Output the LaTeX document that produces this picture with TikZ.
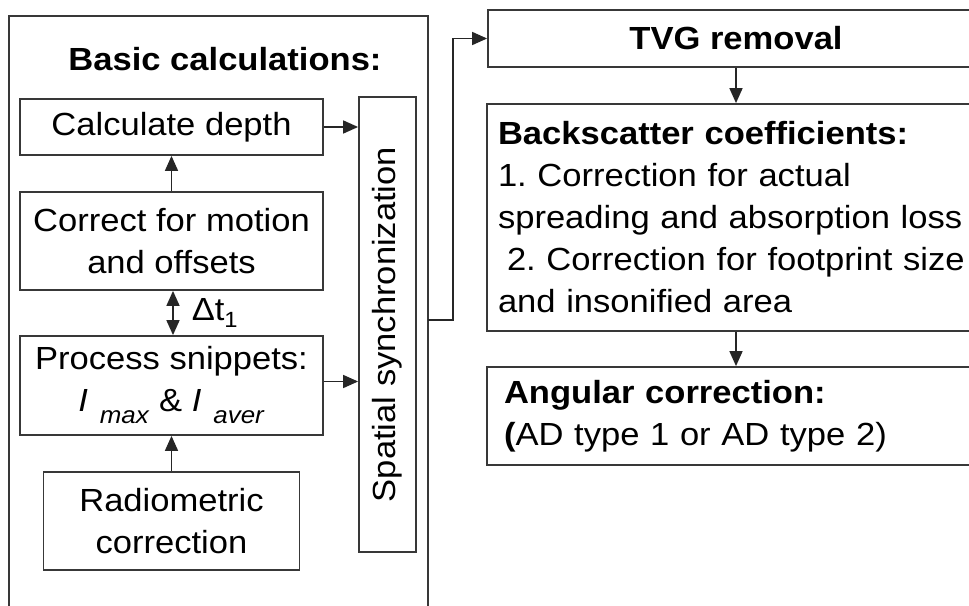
\documentclass[tikz,border=0pt]{standalone}
\usepackage{fontspec}
\setmainfont[FakeStretch=1.08]{Liberation Sans}
\usetikzlibrary{arrows.meta}
\begin{document}
\frenchspacing
\begin{tikzpicture}[x=1pt,y=-1pt,
  box/.style={draw=black!78, line width=1.8pt, inner sep=0pt, align=center,
    font=\fontsize{32}{42}\selectfont},
  lbox/.style={box, align=left},
  conn/.style={draw=black!85, line width=1.6pt, -{Triangle[length=15pt,width=13pt]}},
  dconn/.style={draw=black!85, line width=1.6pt, {Triangle[length=15pt,width=13pt]}-{Triangle[length=15pt,width=13pt]}},
  txt/.style={inner sep=0pt, font=\fontsize{32}{42}\selectfont}]
\clip (0,0) rectangle (969,605);
\fill[white] (0,0) rectangle (969,605);
% outer group
\node[box, minimum width=419pt, minimum height=600pt] (outer) at (218.5,316) {};
\node[txt, font=\bfseries\fontsize{32}{40}\selectfont, anchor=base] (title) at (225,70) {Basic calculations:};
% left boxes
\node[box, minimum width=303pt, minimum height=56pt] (depth) at (171.5,127) {Calculate depth};
\node[box, minimum width=303pt, minimum height=98pt] (correct) at (171.5,241) {Correct for motion\\and offsets};
\node[box, minimum width=303pt, minimum height=99pt] (process) at (171.5,385.5)
  {Process snippets:\\\textit{I}\hspace{12pt}\raisebox{-12pt}{\fontsize{24}{24}\selectfont\textit{max}} \& \textit{I}\hspace{12pt}\raisebox{-12pt}{\fontsize{24}{24}\selectfont\textit{aver}}};
\node[box, minimum width=256pt, minimum height=98pt] (radio) at (171.5,521) {Radiometric\\correction};
\node[box, minimum width=57pt, minimum height=455pt] (sync) at (387.5,324.5) {\rotatebox{90}{Spatial synchronization}};
% right boxes
\node[box, minimum width=496pt, minimum height=57pt, font=\bfseries\fontsize{32}{42}\selectfont] (tvg) at (736,38.5) {TVG removal};
\node[lbox, minimum width=498pt, minimum height=227pt, text width=476pt] (bs) at (736,217.5)
  {\textbf{Backscatter coefficients:}\\1. Correction for actual\\spreading and absorption loss\\\hspace{9pt}2. Correction for footprint size\\and insonified area};
\node[lbox, minimum width=498pt, minimum height=98pt, text width=464pt] (ang) at (736,416)
  {\textbf{Angular correction:}\\\textbf{(}AD type 1 or AD type 2)};
% connectors
\draw[conn] (correct.north) -- (depth.south);
\draw[conn] (radio.north) -- (process.south);
\draw[dconn] ([xshift=1.5pt]correct.south) -- ([xshift=1.5pt]process.north)
  node[midway, anchor=west, xshift=18pt, inner sep=0pt, font=\fontsize{32}{42}\selectfont] (dt) {Δt\raisebox{-7pt}{\fontsize{22}{22}\selectfont 1}};
\draw[conn] (depth.east) -- (depth.east -| sync.west);
\draw[conn] ([yshift=4pt]process.east) -- ([yshift=4pt]process.east -| sync.west);
\coordinate (exit) at (428,320);
\draw[conn] (exit) -- ++(25,0) |- (tvg.west);
\draw[conn] (tvg.south) -- (bs.north);
\draw[conn] (bs.south) -- (ang.north);
\end{tikzpicture}
\end{document}
